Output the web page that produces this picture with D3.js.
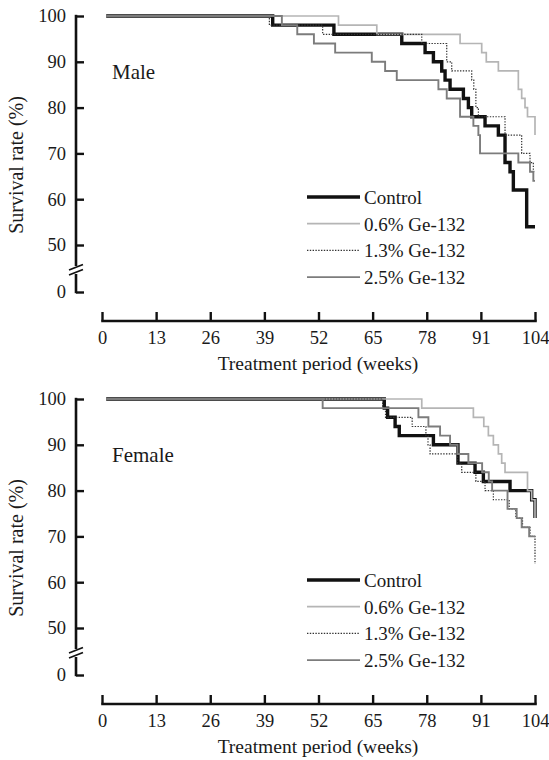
<!DOCTYPE html>
<html>
<head>
<meta charset="utf-8">
<script src="https://cdn.jsdelivr.net/npm/d3@7"></script>
<style>
  html, body { margin: 0; padding: 0; background: #fff; }
  svg { display: block; }
  text { font-family: "Liberation Serif", "Times New Roman", serif; fill: #1a1a1a; }
</style>
</head>
<body>
<svg id="chart" width="549" height="760"></svg>
<script>
// ---- data (weeks, survival %) ----
const weekTicks = [0, 13, 26, 39, 52, 65, 78, 91, 104];
const rateTicks = [0, 50, 60, 70, 80, 90, 100];
const seriesNames = ["Control", "0.6% Ge-132", "1.3% Ge-132", "2.5% Ge-132"];
const panelNames = ["Male", "Female"];

const maleControl = [[1,100],[41,98],[55.7,96],[72,94],[77.6,92],[79.6,90],[81.6,88],[82.4,86],[83.6,84],[86.8,82],[88,80],[88.8,78],[92,76],[95.2,74],[96.8,68],[98,66],[98.8,62],[102,54],[104,54]];
const male06 = [[1,100],[56.8,98],[66,96],[86,94],[91.2,92],[92.3,90],[95.2,88],[100,84],[100.8,82],[101.6,80],[102.2,78],[104,74]];
const male13 = [[1,100],[40.2,98],[53,96],[76.8,94],[82.8,90],[84,88],[88.8,86],[89.3,84],[89.8,80],[90.4,78],[96.8,74],[100.8,70],[102.8,68],[103.6,66],[104,66]];
const male25 = [[1,100],[43.2,98],[46.9,96],[50.9,94],[56,92],[64.8,90],[68,88],[70.8,86],[80.8,84],[82.8,82],[86,78],[89.2,76],[90.4,74],[90.8,70],[100,68],[102.8,66],[103.6,64],[104,64]];

const femaleControl = [[1,100],[67.8,98],[68.6,96],[70.4,94],[71.4,92],[79.6,90],[85.5,86],[89.6,84],[91.6,82],[98,80],[103.2,78],[104,74]];
const female06 = [[1,100],[76.8,98],[89.2,96],[91.7,94],[92.8,92],[94,90],[95.2,88],[96,86],[96.8,84],[102.2,80],[103.2,78],[104,74]];
const female13 = [[1,100],[67.4,98],[68.1,96],[74.5,94],[77.8,92],[78.3,90],[78.8,88],[85.4,86],[86.4,84],[89.8,82],[92,80],[94,78],[97.8,76],[99.4,74],[101,72],[102.8,70],[104,64]];
const female25 = [[1,100],[53,98],[76,96],[78.4,94],[81.2,92],[83.6,90],[85.4,88],[88,86],[91.3,84],[92.9,82],[93.7,80],[97.4,76],[99.6,74],[100.8,72],[102.6,70],[104,70]];

// ---- styles ----
const styles = [
  { stroke: "#111", width: 3.4, dash: null },
  { stroke: "#b5b5b5", width: 1.7, dash: null },
  { stroke: "#333", width: 1.2, dash: "1.4,1.4" },
  { stroke: "#7c7c7c", width: 1.9, dash: null }
];

const svg = d3.select("#chart");
const x = d3.scaleLinear().domain([0, 104]).range([102, 535]);
const y = d3.scaleLinear().domain([0, 50, 100]).range([292, 245, 16]);

const line = d3.line().x(d => x(d[0])).y(d => y(d[1])).curve(d3.curveStepAfter);

function drawPanel(offsetY, label, seriesList) {
  const g = svg.append("g").attr("transform", `translate(0,${offsetY})`);

  // X axis
  const xAxis = d3.axisBottom(x).tickValues(weekTicks).tickSizeInner(-8.5).tickSizeOuter(0).tickPadding(10);
  const gx = g.append("g").attr("transform", "translate(0,320.5)").call(xAxis);
  gx.select(".domain").attr("stroke", "#111").attr("stroke-width", 2.6).attr("stroke-linecap", "square");
  gx.selectAll(".tick line").attr("stroke", "#111").attr("stroke-width", 2.4);
  gx.selectAll(".tick text").attr("font-size", 18.5).attr("font-family", "Liberation Serif, serif").attr("fill", "#1a1a1a");

  // Y axis
  const yAxis = d3.axisLeft(y).tickValues(rateTicks).tickSizeInner(-8).tickSizeOuter(0).tickPadding(10);
  const gy = g.append("g").attr("transform", "translate(76,0)").call(yAxis);
  gy.select(".domain").remove();
  gy.selectAll(".tick line").attr("stroke", "#111").attr("stroke-width", 2.4);
  gy.selectAll(".tick text").attr("font-size", 18.5).attr("font-family", "Liberation Serif, serif").attr("fill", "#1a1a1a");

  // Y axis line with break
  gy.append("line").attr("x1", 0).attr("x2", 0).attr("y1", y(100) - 1.2).attr("y2", 266)
    .attr("stroke", "#111").attr("stroke-width", 2.6);
  gy.append("line").attr("x1", 0).attr("x2", 0).attr("y1", 274).attr("y2", y(0) + 1.2)
    .attr("stroke", "#111").attr("stroke-width", 2.6);
  [0, 5].forEach(d => {
    gy.append("line").attr("x1", -7).attr("y1", 270 + d).attr("x2", 7).attr("y2", 264.5 + d)
      .attr("stroke", "#111").attr("stroke-width", 1.8);
  });

  // Series
  seriesList.forEach((data, i) => {
    const s = styles[i];
    g.append("path").datum(data)
      .attr("d", line)
      .attr("fill", "none")
      .attr("stroke", s.stroke)
      .attr("stroke-width", s.width)
      .attr("stroke-dasharray", s.dash);
  });

  // Panel label
  g.append("text").attr("x", 112).attr("y", 78.5).attr("font-size", 21).text(label);

  // Legend
  seriesNames.forEach((name, i) => {
    const ly = 197 + i * 26.7;
    const s = styles[i];
    g.append("line").attr("x1", 307).attr("x2", 360).attr("y1", ly).attr("y2", ly)
      .attr("stroke", s.stroke).attr("stroke-width", i === 0 ? 3.6 : s.width)
      .attr("stroke-dasharray", s.dash);
    g.append("text").attr("x", 364).attr("y", ly + 7).attr("font-size", 19).text(name);
  });

  // Axis titles
  g.append("text").attr("x", 318).attr("y", 370).attr("text-anchor", "middle")
    .attr("font-size", 19.5).text("Treatment period (weeks)");
  g.append("text").attr("transform", "translate(16,165) rotate(-90)")
    .attr("text-anchor", "middle").attr("dominant-baseline", "central")
    .attr("font-size", 20).text("Survival rate (%)");
}

drawPanel(0, panelNames[0], [maleControl, male06, male13, male25]);
drawPanel(383, panelNames[1], [femaleControl, female06, female13, female25]);
</script>
</body>
</html>
